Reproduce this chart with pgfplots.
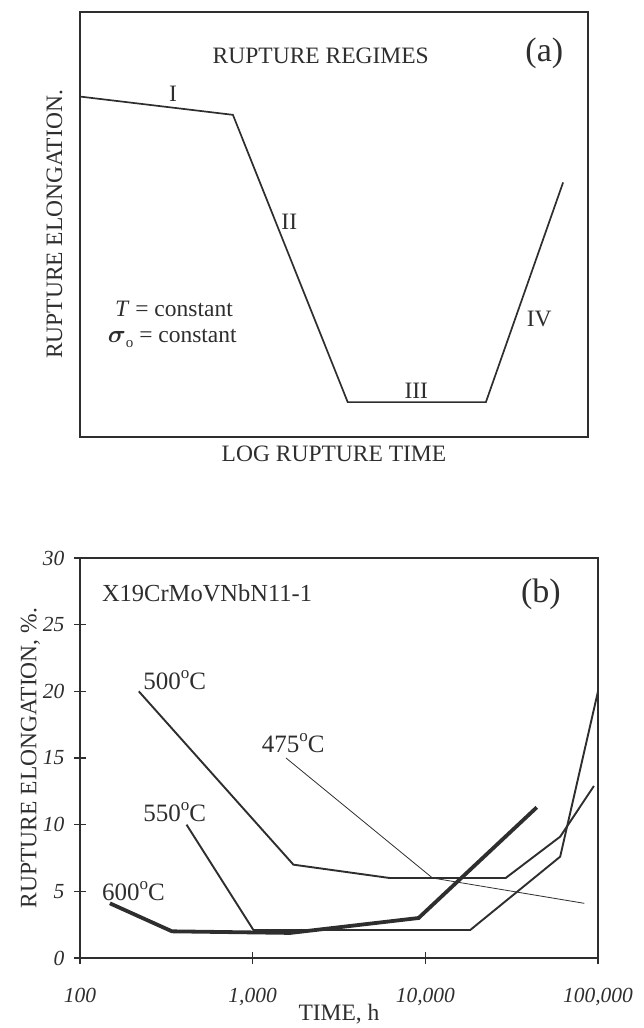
\documentclass[border=0pt]{standalone}
\usepackage{pgfplots}
\pgfplotsset{compat=1.18}
\usepackage{fontspec}
\setmainfont{Liberation Serif}
\usepackage{bm}
\definecolor{ink}{HTML}{2E2E2E}
\newcommand{\fs}[1]{\fontsize{#1}{#1}\selectfont}
\newcommand{\dego}{\raisebox{0.45em}{\fs{17}o}}
\begin{document}
\begin{tikzpicture}
% panel (a): schematic, no ticks
\begin{axis}[name=A, at={(80pt,591pt)}, anchor=south west, scale only axis,
 width=508pt, height=425pt, xmin=0, xmax=1, ymin=0, ymax=1, ticks=none,
 axis line style={line width=1.6pt, draw=ink},
 xlabel={LOG RUPTURE TIME}, ylabel={RUPTURE ELONGATION.},
 label style={font=\fs{23.5}, text=ink},
 xlabel style={yshift=-5pt}, ylabel style={yshift=14pt}]
\addplot[ink, line width=1.7pt] coordinates {(0,0.801)(0.301,0.758)(0.527,0.082)(0.799,0.082)(0.951,0.599)};
\node[font=\fs{23.5}, text=ink] at (0.474,0.898) {RUPTURE REGIMES};
\node[font=\fs{34}, text=ink] at (0.914,0.902) {(a)};
\node[font=\fs{23.5}, text=ink] at (0.183,0.808) {I};
\node[font=\fs{23.5}, text=ink] at (0.412,0.506) {II};
\node[font=\fs{23.5}, text=ink] at (0.662,0.108) {III};
\node[font=\fs{23.5}, text=ink] at (0.904,0.278) {IV};
\node[font=\fs{23.5}, text=ink, anchor=west] at (0.062,0.302) {\textit{T} = constant};
\node[font=\fs{23.5}, text=ink, anchor=west] at (0.048,0.231) {{\fs{36}$\bm{\sigma}$}\raisebox{-5pt}{\fs{15}o} = constant};
\end{axis}
% panel (b): data
\begin{axis}[name=B, at={(80pt,70pt)}, anchor=south west, scale only axis,
 width=518pt, height=400pt, xmode=log, xmin=100, xmax=100000, ymin=0, ymax=30,
 xtick={100,1000,10000,100000}, xticklabels={100,{1,000},{10,000},{100,000}},
 ytick={0,5,10,15,20,25,30}, tick pos=left, tick align=center,
 major tick length=12pt, minor tick num=0, log basis x=10,
 tick style={line width=1.6pt, draw=ink},
 axis line style={line width=1.6pt, draw=ink},
 ticklabel style={font=\fs{21.5}\itshape, text=ink},
 /pgf/number format/assume math mode=true,
 xticklabel style={yshift=-21pt}, yticklabel style={xshift=-6pt},
 xlabel={TIME, h}, ylabel={RUPTURE ELONGATION, \%.},
 label style={font=\fs{23.5}, text=ink},
 xlabel style={yshift=9pt}, ylabel style={yshift=-4pt}]
% 475 C
\addplot[ink, line width=0.8pt] coordinates {(1560,15)(11000,6)(83400,4.1)};
% 500 C
\addplot[ink, line width=1.9pt] coordinates {(219,20)(1722,7)(6210,6)(29200,6)(60400,9.1)(94700,12.9)};
% 550 C
\addplot[ink, line width=1.9pt] coordinates {(414,10)(1010,2.1)(18200,2.1)(60400,7.6)(100000,20)};
% 600 C
\addplot[ink, line width=3.8pt] coordinates {(149,4.1)(341,2)(1650,1.88)(9140,3)(44200,11.3)};
\node[font=\fs{25}, text=ink, anchor=base west] at (222,20.1) {500\dego C};
\node[font=\fs{25}, text=ink, anchor=base west] at (1080,15.4) {475\dego C};
\node[font=\fs{25}, text=ink, anchor=base west] at (222,10.2) {550\dego C};
\node[font=\fs{25}, text=ink, anchor=base west] at (128,4.3) {600\dego C};
\node[font=\fs{24.5}, text=ink, anchor=base west] at (128,26.7) {X19CrMoVNbN11-1};
\node[font=\fs{34}, text=ink] at (46700,27.3) {(b)};
\end{axis}
\pgfresetboundingbox
\path (0pt,0pt) rectangle (644pt,1028pt);
\end{tikzpicture}
\end{document}
